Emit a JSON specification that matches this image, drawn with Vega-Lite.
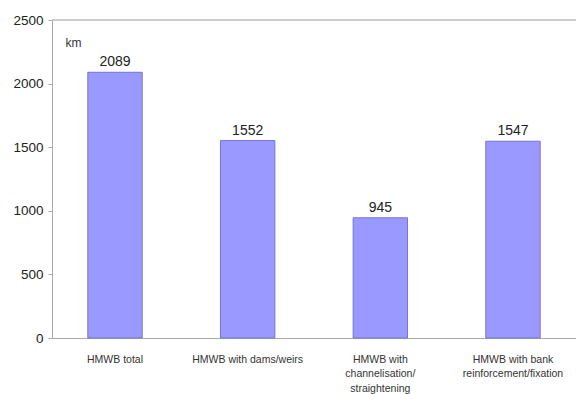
{
  "$schema": "https://vega.github.io/schema/vega-lite/v6.json",
  "width": 524,
  "height": 318,
  "autosize": {"type": "none"},
  "padding": {"left": 52, "top": 20, "right": 0, "bottom": 56},
  "background": "white",
  "config": {
    "view": {"stroke": null},
    "font": "Liberation Sans"
  },
  "data": {
    "values": [
      {"category": "HMWB total", "km": 2089},
      {"category": "HMWB with dams/weirs", "km": 1552},
      {"category": "HMWB with|channelisation/|straightening", "km": 945},
      {"category": "HMWB with bank|reinforcement/fixation", "km": 1547}
    ]
  },
  "layer": [
    {
      "mark": {"type": "rule", "color": "#cccccc", "strokeWidth": 1.5},
      "encoding": {"y": {"datum": 2500, "type": "quantitative"}}
    },
    {
      "mark": {"type": "bar", "fill": "#9999ff", "stroke": "#7474d4", "strokeWidth": 1},
      "encoding": {
        "x": {
          "field": "category",
          "type": "nominal",
          "sort": null,
          "scale": {"paddingInner": 0.59, "paddingOuter": 0.27},
          "axis": {
            "title": null,
            "labelAngle": 0,
            "labelExpr": "split(datum.label, '|')",
            "labelFontSize": 10.5,
            "labelColor": "#333333",
            "labelLineHeight": 14.5,
            "labelPadding": 16,
            "ticks": false,
            "domainColor": "#aaaaaa",
            "labelBaseline": "top"
          }
        },
        "y": {
          "field": "km",
          "type": "quantitative",
          "scale": {"domain": [0, 2500], "nice": false},
          "axis": {
            "values": [0, 500, 1000, 1500, 2000, 2500],
            "format": "d",
            "grid": false,
            "title": "km",
            "titleAngle": 0,
            "titleAlign": "left",
            "titleBaseline": "middle",
            "titleX": 13,
            "titleY": 22,
            "titleFontSize": 12,
            "titleFontWeight": "normal",
            "titleColor": "#333333",
            "labelFontSize": 13.5,
            "labelColor": "#222222",
            "labelPadding": 5,
            "tickSize": 4,
            "tickColor": "#aaaaaa",
            "domainColor": "#aaaaaa"
          }
        }
      }
    },
    {
      "mark": {"type": "text", "baseline": "bottom", "dy": -3, "fontSize": 14, "color": "#222222"},
      "encoding": {
        "x": {"field": "category", "type": "nominal", "sort": null},
        "y": {"field": "km", "type": "quantitative"},
        "text": {"field": "km", "type": "quantitative", "format": "d"}
      }
    }
  ]
}
